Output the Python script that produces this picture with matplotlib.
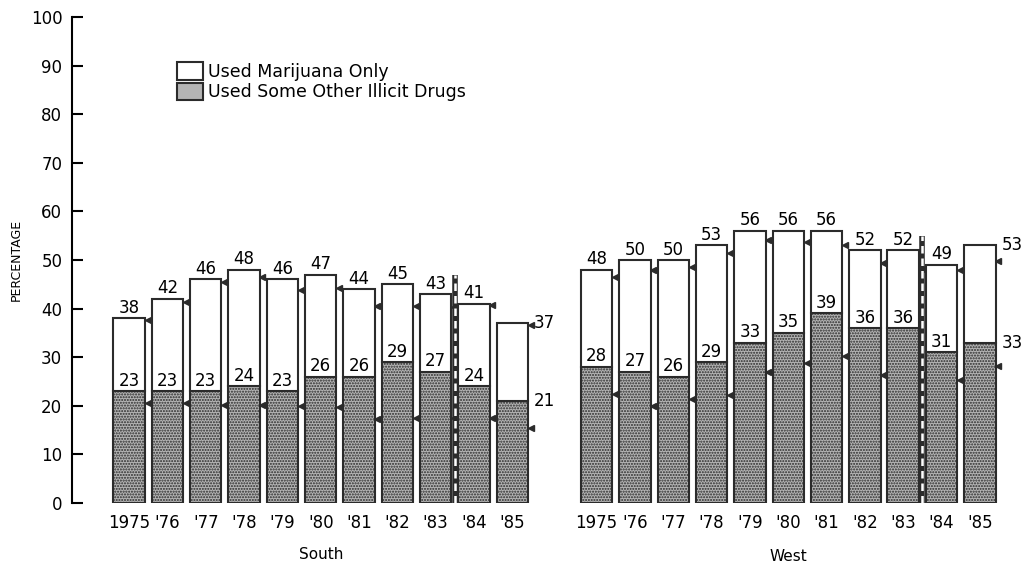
import matplotlib.pyplot as plt
import numpy as np

years = ["1975", "'76", "'77", "'78", "'79", "'80", "'81", "'82", "'83", "'84", "'85"]

# South
south_total = [38, 42, 46, 48, 46, 47, 44, 45, 43, 41, 37]
south_other = [23, 23, 23, 24, 23, 26, 26, 29, 27, 24, 21]
south_mark_hi = [37.7, 41.4, 45.5, 46.5, 43.8, 44.3, 40.6, 40.5, 40.4, 40.8, 36.6]
south_mark_lo = [20.6, 20.6, 20.2, 20.2, 20.0, 19.8, 17.3, 17.4, 17.4, 17.4, 15.4]

# West
west_total = [48, 50, 50, 53, 56, 56, 56, 52, 52, 49, 53]
west_other = [28, 27, 26, 29, 33, 35, 39, 36, 36, 31, 33]
west_mark_hi = [46.6, 47.9, 48.6, 51.4, 54.1, 53.8, 53.1, 49.3, 48.1, 47.9, 49.7]
west_mark_lo = [22.4, 20.0, 21.3, 22.2, 27.0, 28.9, 30.2, 26.3, 26.3, 25.3, 28.1]

labels = ["Used Marijuana Only", "Used Some Other Illicit Drugs"]
gray = "#b4b4b4"
edge = "#2b2b2b"
width = 0.82

fig = plt.figure(figsize=(10.29, 5.69), dpi=100)
ax = fig.add_axes([0.070, 0.116, 0.912, 0.854])


def draw_group(x0, total, other, mark_hi, mark_lo, sep_top):
    x = x0 + np.arange(len(total))
    ax.bar(x, other, width, color=gray, edgecolor=edge, linewidth=1.5, hatch="......")
    top = np.array(total) - np.array(other)
    ax.bar(x, top, width, bottom=other, color="white", edgecolor=edge, linewidth=1.5)
    ax.plot(x + width / 2 + 0.07, mark_hi, "<", color=edge, ms=5, ls="none")
    ax.plot(x + width / 2 + 0.07, mark_lo, "<", color=edge, ms=5, ls="none")
    for i in range(len(total)):
        if i == len(total) - 1:
            ax.text(x[i] + width / 2 + 0.15, total[i], str(total[i]), ha="left", va="center", fontsize=12)
            ax.text(x[i] + width / 2 + 0.15, other[i], str(other[i]), ha="left", va="center", fontsize=12)
        else:
            ax.text(x[i], total[i] + 0.3, str(total[i]), ha="center", va="bottom", fontsize=12)
            ax.text(x[i], other[i] + 0.3, str(other[i]), ha="center", va="bottom", fontsize=12)
    # break line between '83 and '84
    xs = x[8] + 0.5
    ax.vlines(xs, 0, sep_top, colors=edge, lw=4)
    ax.vlines(xs, 0, sep_top, colors="white", lw=1.8, linestyles=(0, (3, 2)))
    return x


xs_s = draw_group(0, south_total, south_other, south_mark_hi, south_mark_lo, 47)
xs_w = draw_group(12.2, west_total, west_other, west_mark_hi, west_mark_lo, 55)

ax.set_xlim(-1.49, 23.0)
ax.set_ylim(0, 100)
ax.set_xticks(list(xs_s) + list(xs_w))
ax.set_xticklabels(years + years, fontsize=12)
ax.tick_params(axis="x", length=0, pad=8)
ax.set_yticks(range(0, 101, 10))
ax.tick_params(axis="y", direction="in", length=8, width=1.5, labelsize=12, pad=7)
for s in ["top", "right", "bottom"]:
    ax.spines[s].set_visible(False)
ax.spines["left"].set_linewidth(1.5)

ax.set_ylabel("PERCENTAGE", fontsize=9)
ax.yaxis.set_label_coords(-0.052, 0.5)

tr = ax.get_xaxis_transform()
ax.text(5, -0.105, "South", transform=tr, ha="center", va="center", fontsize=11)
ax.text(17.2, -0.11, "West", transform=tr, ha="center", va="center", fontsize=11)

h1 = plt.Rectangle((0, 0), 1, 1, facecolor="white", edgecolor=edge, linewidth=1.5)
h2 = plt.Rectangle((0, 0), 1, 1, facecolor=gray, edgecolor=edge, linewidth=1.5)
fig.legend([h1, h2], labels, loc="upper left", bbox_to_anchor=(0.172, 0.891),
           frameon=False, fontsize=12.5, handlelength=1.5, handleheight=1.2,
           labelspacing=0.1, handletextpad=0.3, borderpad=0, borderaxespad=0)

plt.savefig("out.png")
